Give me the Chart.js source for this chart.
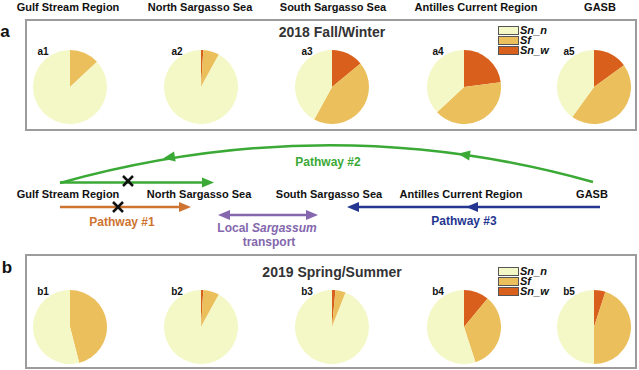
<!DOCTYPE html>
<html>
<head>
<meta charset="utf-8">
<script src="https://cdn.jsdelivr.net/npm/chart.js@4.4.1/dist/chart.umd.min.js"></script>
<style>
  html, body { margin: 0; padding: 0; background: #fff; }
  body { width: 639px; height: 370px; position: relative; overflow: hidden;
         font-family: 'Liberation Sans', Arial, sans-serif; font-weight: bold; color: #111; }
  .t { position: absolute; white-space: nowrap; transform: translate(-50%, -50%); }
  .box { position: absolute; border: 2px solid #9c9c9c; box-sizing: border-box; }
  .pie { position: absolute; }
  .lg { position: absolute; font-size: 11px; font-style: italic; }
  .lg div { height: 10px; line-height: 10px; position: relative; padding-left: 22px; }
  .lg span { position: absolute; left: 0; top: 1px; width: 19px; height: 7px; border: 1px solid #555; }
  svg { position: absolute; left: 0; top: 0; }
</style>
</head>
<body>
<svg id="diagram" width="639" height="370"></svg>
<script>
  // regions along the top and in the pathway row
  var regions = ['Gulf Stream Region', 'North Sargasso Sea', 'South Sargasso Sea', 'Antilles Current Region', 'GASB'];
  // slice order, clockwise from 12 o'clock
  var parts = ['Sn_w', 'Sf', 'Sn_n'];
  var legendOrder = ['Sn_n', 'Sf', 'Sn_w'];

  // 2018 Fall/Winter (a1..a5), percent
  var fallSnw = [0, 1, 14, 23, 15];
  var fallSf = [13, 7, 44, 40, 45];
  var fallSnn = [87, 92, 42, 37, 40];

  // 2019 Spring/Summer (b1..b5), percent
  var springSnw = [0, 1, 1.5, 11, 5];
  var springSf = [46, 7, 4.5, 34, 45];
  var springSnn = [54, 92, 94, 55, 50];

  var colors = { Sn_n: '#f4f8c6', Sf: '#ebbf5c', Sn_w: '#d95f1d' };

  var colX = [70, 201, 332, 464, 594];
  var titleX = [68, 200, 333, 476, 600];
  var rowX = [68, 199, 329, 461, 592];
  var R = 37;

  function text(str, x, y, size, color, extra) {
    var d = document.createElement('div');
    d.className = 't';
    d.innerHTML = str;
    d.style.left = x + 'px';
    d.style.top = y + 'px';
    d.style.fontSize = size + 'px';
    if (color) d.style.color = color;
    if (extra) d.style.cssText += extra;
    document.body.appendChild(d);
  }

  function box(x, y, w, h) {
    var d = document.createElement('div');
    d.className = 'box';
    d.style.left = x + 'px'; d.style.top = y + 'px';
    d.style.width = w + 'px'; d.style.height = h + 'px';
    document.body.appendChild(d);
  }

  function legend(x, y) {
    var d = document.createElement('div');
    d.className = 'lg';
    d.style.left = x + 'px'; d.style.top = y + 'px';
    legendOrder.forEach(function (k) {
      var row = document.createElement('div');
      row.innerHTML = '<span style="background:' + colors[k] + '"></span>' + k;
      d.appendChild(row);
    });
    document.body.appendChild(d);
  }

  function pie(cx, cy, vals) {
    var c = document.createElement('canvas');
    c.className = 'pie';
    c.width = 2 * R; c.height = 2 * R;
    c.style.left = (cx - R) + 'px'; c.style.top = (cy - R) + 'px';
    document.body.appendChild(c);
    new Chart(c, {
      type: 'pie',
      data: {
        labels: parts,
        datasets: [{
          data: vals,
          backgroundColor: parts.map(function (p) { return colors[p]; }),
          borderWidth: 0
        }]
      },
      options: {
        responsive: false,
        animation: false,
        layout: { padding: 0 },
        plugins: { legend: { display: false }, tooltip: { enabled: false } }
      }
    });
  }

  // column headings
  regions.forEach(function (r, i) { text(r, titleX[i], 7, 11); });

  // panel a
  box(25, 19, 612, 112);
  text('a', 5, 32, 17);
  text('2018 Fall/Winter', 332, 32, 14, '#333');
  legend(498, 25);
  colX.forEach(function (x, i) {
    text('a' + (i + 1), [43, 177, 307, 438, 569][i], 51, 10);
    pie(x, 87, [fallSnw[i], fallSf[i], fallSnn[i]]);
  });

  // panel b
  box(25, 254, 612, 115);
  text('b', 7, 268, 17);
  text('2019 Spring/Summer', 332, 272, 14, '#333');
  legend(498, 266);
  colX.forEach(function (x, i) {
    text('b' + (i + 1), [43, 177, 307, 438, 569][i], 291, 10);
    pie(x, 327, [springSnw[i], springSf[i], springSnn[i]]);
  });

  // pathway row
  regions.forEach(function (r, i) { text(r, rowX[i], 194, 11); });
  text('Pathway #2', 328, 162, 12, '#3aa935');
  text('Pathway #1', 122, 222, 12, '#cd7430');
  text('Pathway #3', 464, 221, 12, '#24368f');
  text('Local <i>Sargassum</i>', 267, 228, 12, '#8467ad');
  text('transport', 269, 242, 12, '#8467ad');

  // arrows
  var svg = document.getElementById('diagram');
  var NS = 'http://www.w3.org/2000/svg';
  function el(tag, attrs) {
    var e = document.createElementNS(NS, tag);
    for (var k in attrs) e.setAttribute(k, attrs[k]);
    svg.appendChild(e);
    return e;
  }
  function head(x, y, ang, col) {
    el('polygon', { points: '0,0 -12,-5 -12,5', fill: col,
      transform: 'translate(' + x + ',' + y + ') rotate(' + ang + ')' });
  }
  function cross(x, y) {
    el('path', { d: 'M' + (x - 5) + ',' + (y - 5) + 'L' + (x + 5) + ',' + (y + 5) +
      'M' + (x + 5) + ',' + (y - 5) + 'L' + (x - 5) + ',' + (y + 5),
      stroke: '#111', 'stroke-width': 2.5, fill: 'none' });
  }

  var green = '#3aa935', orange = '#cd7430', purple = '#8467ad', blue = '#24368f';
  el('path', { d: 'M60,183 Q330,108 593,182', stroke: green, 'stroke-width': 2.5, fill: 'none' });
  head(163, 158.5, 170.5, green);
  head(458, 153.8, 188, green);
  el('line', { x1: 60, y1: 182.5, x2: 205, y2: 182.5, stroke: green, 'stroke-width': 2.5 });
  head(214, 182.5, 0, green);
  cross(128, 181);

  el('line', { x1: 60, y1: 207, x2: 182, y2: 207, stroke: orange, 'stroke-width': 2.5 });
  head(191, 207, 0, orange);
  cross(118, 207);

  el('line', { x1: 226, y1: 215, x2: 310, y2: 215, stroke: purple, 'stroke-width': 2.5 });
  head(318, 215, 0, purple);
  head(218, 215, 180, purple);

  el('line', { x1: 600, y1: 207, x2: 354, y2: 207, stroke: blue, 'stroke-width': 2.5 });
  head(347, 207, 180, blue);
  head(466, 207, 180, blue);
</script>
</body>
</html>
